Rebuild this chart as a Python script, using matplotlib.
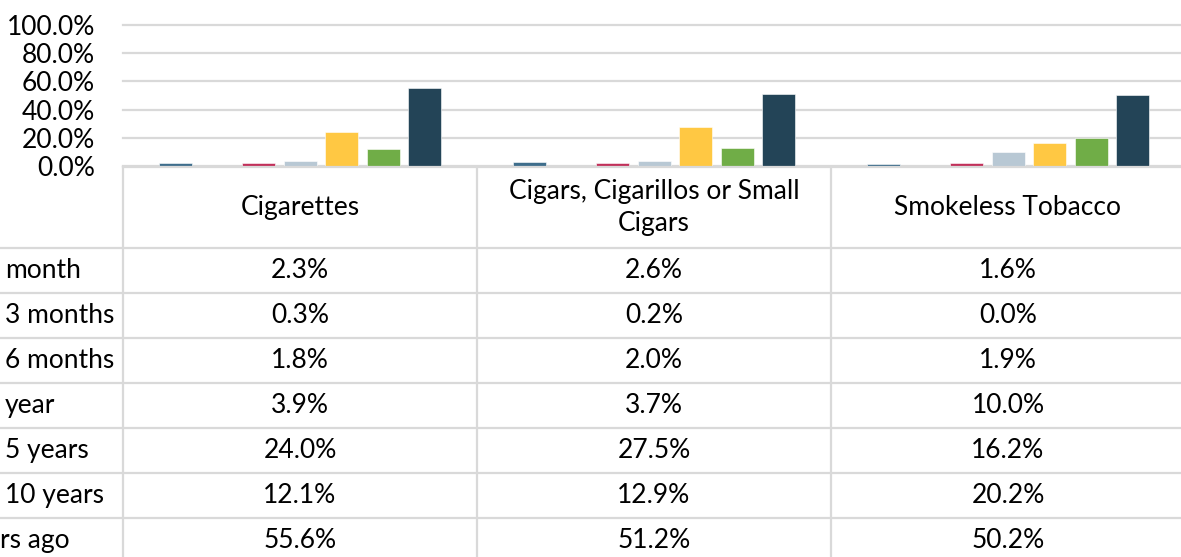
import numpy as np
import matplotlib.pyplot as plt

categories = ["Cigarettes", "Cigars, Cigarillos or Small\nCigars", "Smokeless Tobacco"]
row_labels = ["month", "3 months", "6 months", "year", "5 years", "10 years", "rs ago"]
values = np.array([
    [2.3, 2.6, 1.6],
    [0.3, 0.2, 0.0],
    [1.8, 2.0, 1.9],
    [3.9, 3.7, 10.0],
    [24.0, 27.5, 16.2],
    [12.1, 12.9, 20.2],
    [55.6, 51.2, 50.2],
])
colors = ["#3f6e8c", "#e07b39", "#c1305a", "#b8c8d4", "#ffc843", "#70ad47", "#234457"]

plt.rcParams['font.family'] = ['Lato', 'DejaVu Sans']
grid_c = "#d9d9d9"
fs = 19

W, H = 1181, 557
fig = plt.figure(figsize=(W / 100, H / 100), dpi=100)

# plot area in pixels: x 123..1185, y 25..166
px_l, px_r, px_t, px_b = 123, 1185, 25, 166
ax = fig.add_axes([px_l / W, 1 - px_b / H, (px_r - px_l) / W, (px_b - px_t) / H])
ax.set_xlim(0, 3)
ax.set_ylim(0, 100)

n = len(row_labels)
slot = 41.6 / 354
bw = 33 / 354
centers = np.arange(len(categories)) + 0.5
for i in range(n):
    ax.bar(centers + (i - (n - 1) / 2) * slot, values[i], width=bw,
           color=colors[i], edgecolor="white", linewidth=0.4, zorder=3)

ax.set_yticks(np.arange(0, 101, 20))
ax.set_yticklabels([f"{v:.1f}%" for v in np.arange(0, 101, 20)], fontsize=fs)
ax.tick_params(axis="y", length=0, pad=20)
ax.set_xticks([])
ax.grid(axis="y", color=grid_c, linewidth=1.6, zorder=0)
for gl in ax.get_ygridlines():
    gl.set_clip_on(False)
for s in ax.spines.values():
    s.set_visible(False)

# data table in pixel coordinates
tb = fig.add_axes([0, 0, 1, 1])
tb.set_xlim(0, W)
tb.set_ylim(H, 0)
tb.axis("off")
tb.patch.set_alpha(0)

col_w = 354
head_top, head_bot, row_h = 167, 248, 45
lw = 1.6
tb.plot([px_l, W], [head_top, head_top], color=grid_c, lw=lw)
for j in range(len(categories) + 1):
    x = px_l + j * col_w
    tb.plot([x, x], [head_top, H], color=grid_c, lw=lw)
for i in range(n):
    y = head_bot + i * row_h
    tb.plot([0, W], [y, y], color=grid_c, lw=lw)

for j, cat in enumerate(categories):
    xc = px_l + (j + 0.5) * col_w
    tb.text(xc, (head_top + head_bot) / 2, cat, ha="center", va="center",
            fontsize=fs, linespacing=1.33)
    for i in range(n):
        yc = head_bot + (i + 0.5) * row_h
        tb.text(xc, yc, f"{values[i, j]:.1f}%", ha="center", va="center", fontsize=fs)

for i, lab in enumerate(row_labels):
    yc = head_bot + (i + 0.5) * row_h
    tb.text(0 if i == n - 1 else 5, yc, lab, ha="left", va="center", fontsize=fs)

fig.savefig("out.png", dpi=100)
